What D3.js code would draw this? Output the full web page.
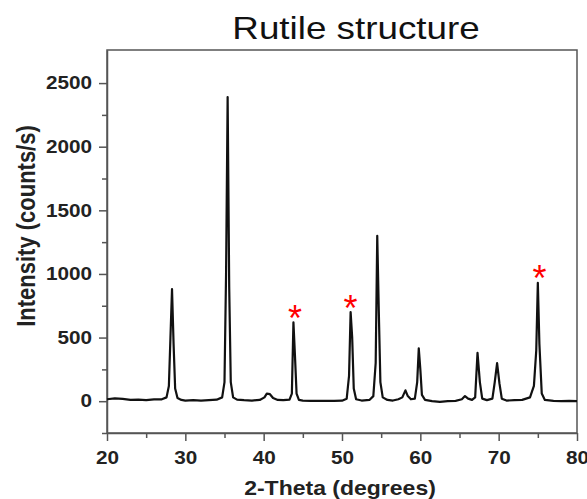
<!DOCTYPE html>
<html>
<head>
<meta charset="utf-8">
<script src="https://cdn.jsdelivr.net/npm/d3@7"></script>
<style>
  body { margin: 0; background: #fff; }
  text { font-family: "Liberation Sans", Arial, sans-serif; }
</style>
</head>
<body>
<svg width="587" height="499"></svg>
<script>
// XRD pattern
var twoTheta = [20, 21, 22, 23, 24, 25, 26, 27, 27.6, 27.9, 28.1, 28.3, 28.5, 28.7, 29.0, 29.5,
  30, 31, 32, 33, 34, 34.7, 35.0, 35.2, 35.4, 35.6, 35.8, 36.1, 36.6, 37.5, 38.5, 39.5,
  40.1, 40.4, 40.8, 41.2, 41.8, 42.5, 43.3, 43.6, 43.8, 44.0, 44.2, 44.5, 45, 46, 47, 48, 49,
  50, 50.6, 50.9, 51.1, 51.3, 51.5, 51.8, 52.5, 53.5, 54.0, 54.3, 54.5, 54.7, 54.9, 55.2, 55.8,
  56.5, 57.2, 57.7, 58.1, 58.4, 58.8, 59.3, 59.6, 59.8, 60.0, 60.2, 60.6, 61.5, 62.5, 63.5,
  64.5, 65.3, 65.7, 66.1, 66.6, 67.0, 67.3, 67.6, 67.9, 68.5, 69.2, 69.5, 69.8, 70.1, 70.4,
  71, 72, 73, 74, 74.5, 74.8, 75.0, 75.2, 75.5, 75.9, 77, 78, 79, 80];
var counts = [15, 22, 18, 10, 12, 8, 14, 15, 30, 120, 500, 880, 450, 100, 25, 10,
  5, 8, 4, 8, 12, 30, 150, 1000, 2390, 900, 150, 30, 12, 8, 5, 10,
  30, 60, 55, 25, 10, 8, 12, 60, 620, 350, 60, 10, 5, 3, 2, 3, 2,
  4, 20, 200, 700, 500, 100, 15, 5, 10, 40, 300, 1300, 700, 150, 30, 10,
  5, 15, 30, 85, 40, 15, 20, 150, 415, 250, 50, 10, 0, -5, 0,
  3, 15, 40, 20, 10, 30, 380, 150, 20, 8, 20, 150, 300, 140, 20,
  5, 8, 10, 30, 120, 400, 930, 450, 60, 10, 3, 0, 2, 0];

// red stars
var starTheta = [44.0, 51.1, 75.2];
var starCounts = [700, 780, 1015];

var xTicks = [20, 30, 40, 50, 60, 70, 80];
var xMinor = [25, 35, 45, 55, 65, 75];
var yTicks = [0, 500, 1000, 1500, 2000, 2500];
var yMinor = [-250, 250, 750, 1250, 1750, 2250];

var svg = d3.select("svg");
var axisColor = "#555";

var x = d3.scaleLinear().domain([20, 80]).range([107, 577]);
var y = d3.scaleLinear().domain([-250, 2760]).range([433, 50]);

// frame
svg.append("rect")
  .attr("x", x(20)).attr("y", y(2760))
  .attr("width", x(80) - x(20)).attr("height", y(-250) - y(2760))
  .attr("fill", "none").attr("stroke", axisColor).attr("stroke-width", 1.5);

// minor ticks
svg.append("g")
  .attr("transform", "translate(0," + y(-250) + ")")
  .call(d3.axisBottom(x).tickValues(xMinor).tickSize(5).tickFormat(""))
  .call(function (g) { g.select(".domain").remove(); })
  .selectAll("line").attr("stroke", axisColor).attr("stroke-width", 1.5);

svg.append("g")
  .attr("transform", "translate(" + x(20) + ",0)")
  .call(d3.axisLeft(y).tickValues(yMinor).tickSize(5).tickFormat(""))
  .call(function (g) { g.select(".domain").remove(); })
  .selectAll("line").attr("stroke", axisColor).attr("stroke-width", 1.5);

// major axes
var xAxis = svg.append("g")
  .attr("transform", "translate(0," + y(-250) + ")")
  .call(d3.axisBottom(x).tickValues(xTicks).tickFormat(d3.format("d"))
    .tickSize(8).tickSizeOuter(0).tickPadding(10));

var yAxis = svg.append("g")
  .attr("transform", "translate(" + x(20) + ",0)")
  .call(d3.axisLeft(y).tickValues(yTicks).tickFormat(d3.format("d"))
    .tickSize(8).tickSizeOuter(0).tickPadding(5));

[xAxis, yAxis].forEach(function (g) {
  g.select(".domain").attr("stroke", axisColor).attr("stroke-width", 1.5);
  g.selectAll(".tick line").attr("stroke", axisColor).attr("stroke-width", 1.5);
  g.selectAll(".tick text")
    .attr("fill", "#222")
    .style("font-size", "18px")
    .style("font-weight", "bold")
    .style("font-family", "'Liberation Sans', Arial, sans-serif");
});
xAxis.selectAll(".tick text").attr("transform", "scale(1.15,1)");
yAxis.selectAll(".tick text").attr("transform", "scale(1.15,1)");

// pattern
var line = d3.line()
  .x(function (d, i) { return x(twoTheta[i]); })
  .y(function (d) { return y(d); });

svg.append("path")
  .datum(counts)
  .attr("d", line)
  .attr("fill", "none")
  .attr("stroke", "#111")
  .attr("stroke-width", 2.2)
  .attr("stroke-linejoin", "round");

// stars
svg.selectAll(".star")
  .data(starTheta)
  .enter()
  .append("text")
  .attr("class", "star")
  .attr("x", function (d) { return x(d); })
  .attr("y", function (d, i) { return y(starCounts[i]) + 19; })
  .attr("text-anchor", "middle")
  .attr("fill", "#f00")
  .style("font-size", "36px")
  .text("*");

// titles
svg.append("text")
  .attr("transform", "translate(356,39) scale(1.15,1)")
  .attr("text-anchor", "middle")
  .style("font-size", "32px")
  .attr("fill", "#111")
  .text("Rutile structure");

svg.append("text")
  .attr("transform", "translate(340,495) scale(1.15,1)")
  .attr("text-anchor", "middle")
  .style("font-size", "20px")
  .style("font-weight", "bold")
  .attr("fill", "#222")
  .text("2-Theta (degrees)");

svg.append("text")
  .attr("transform", "translate(35,226) scale(1.15,1) rotate(-90)")
  .attr("text-anchor", "middle")
  .style("font-size", "22px")
  .style("font-weight", "bold")
  .attr("fill", "#222")
  .text("Intensity (counts/s)");
</script>
</body>
</html>
